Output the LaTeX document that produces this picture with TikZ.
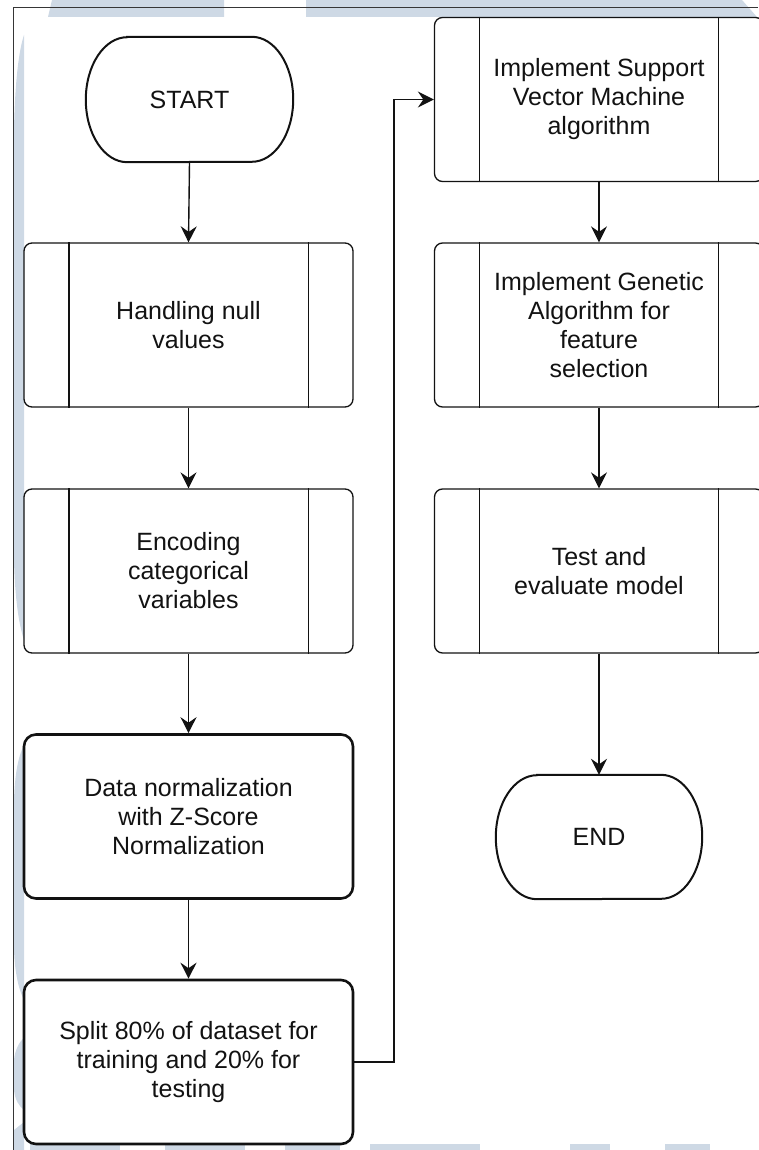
\documentclass[tikz,border=0pt]{standalone}
\usepackage{fontspec}
\setmainfont{Liberation Sans}
\usetikzlibrary{arrows.meta}
\definecolor{wmark}{RGB}{206,217,229}
\definecolor{ink}{RGB}{18,18,18}

\begin{document}
\begin{tikzpicture}[x=1pt,y=-1pt,
  every node/.style={font=\fontsize{25}{29}\selectfont, text=ink, align=center},
  procbox/.style={draw=ink, line width=1.3pt, rounded corners=8pt,
    minimum width=329pt, minimum height=164pt, inner sep=0pt},
  boldbox/.style={draw=ink, line width=2.6pt, rounded corners=12pt,
    minimum width=329pt, minimum height=164pt, inner sep=0pt},
  termbox/.style={minimum width=207pt, minimum height=125pt, inner sep=0pt},
  termline/.style={draw=ink, line width=2pt},
  sideline/.style={draw=ink, line width=1.3pt},
  flow/.style={draw=ink, line width=1.4pt,
    -{Stealth[length=16pt,width=16pt,inset=5.5pt]}},
  frameline/.style={draw=ink!85, line width=1pt},
]
\useasboundingbox (0,0) rectangle (758,1150);

% faint background marks
\fill[wmark] (52,0) -- (224,0) -- (224,17) -- (48,17) -- cycle;
\fill[wmark] (306,0) -- (742,0) -- (757,17) -- (306,17) -- cycle;
\fill[wmark] (14,130) .. controls (15,80) and (19,50) .. (24,35)
  -- (24,640) .. controls (19,625) and (15,600) .. (14,560) -- cycle;
\fill[wmark] (14,800) .. controls (15,770) and (19,755) .. (24,745)
  -- (24,1000) .. controls (19,990) and (15,975) .. (14,950) -- cycle;
\fill[wmark] (14,1060) .. controls (15,1050) and (19,1042) .. (24,1038)
  -- (24,1110) .. controls (19,1106) and (15,1100) .. (14,1090) -- cycle;
\fill[wmark] (14,1130) -- (24,1122) -- (24,1150) -- (14,1150) -- cycle;
\foreach \a/\b in {30/120,165/245,285/340,370/480,570/610,665/710}
  \fill[wmark] (\a,1144) rectangle (\b,1150);

% page frame
\draw[frameline] (13,1150) -- (13,8) -- (758,8);

% left column
\node[termbox] (start) at (189.5,99.5) {START};
\node[procbox] (hand) at (188.5,325) {Handling null\\values};
\node[procbox] (enc) at (188.5,571) {Encoding\\categorical\\variables};
\node[boldbox] (norm) at (188.5,816.5) {Data normalization\\with Z-Score\\Normalization};
\node[boldbox] (split) at (188.5,1062) {Split 80\% of dataset for\\training and 20\% for\\testing};

% right column
\node[procbox] (svm) at (599,99.5) {Implement Support\\Vector Machine\\algorithm};
\node[procbox] (ga) at (599,325) {Implement Genetic\\Algorithm for\\feature\\selection};
\node[procbox] (test) at (599,571) {Test and\\evaluate model};
\node[termbox, minimum width=206pt, minimum height=124pt] (end) at (599,837) {END};

% terminator outlines (elliptic ends)
\foreach \n/\rx/\ry in {start/41.4/62.5, end/41.2/62}
  \draw[termline] ([xshift=\rx pt]\n.north west) -- ([xshift=-\rx pt]\n.north east)
    arc[start angle=90, end angle=-90, x radius=\rx pt, y radius=\ry pt]
    -- ([xshift=\rx pt]\n.south west)
    arc[start angle=270, end angle=90, x radius=\rx pt, y radius=\ry pt] -- cycle;

% side bars of the predefined-process boxes
\foreach \n in {hand,enc,svm,ga,test}{
  \draw[sideline] ([xshift=45.5pt]\n.north west) -- ([xshift=45.5pt]\n.south west);
  \draw[sideline] ([xshift=-45.5pt]\n.north east) -- ([xshift=-45.5pt]\n.south east);
}

% connectors
\draw[flow] (start.south) -- (hand.north);
\draw[flow] (hand.south) -- (enc.north);
\draw[flow] (enc.south) -- (norm.north);
\draw[flow] (norm.south) -- (split.north);
\coordinate (bend) at (394,1062);
\draw[flow] (split.east) -- (bend) |- (svm.west);
\draw[flow] (svm.south) -- (ga.north);
\draw[flow] (ga.south) -- (test.north);
\draw[flow] (test.south) -- (end.north);
\end{tikzpicture}
\end{document}
